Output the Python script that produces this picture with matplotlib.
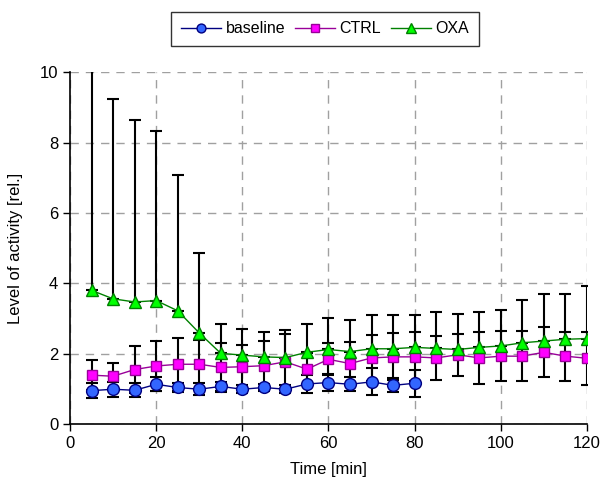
import numpy as np
import matplotlib
matplotlib.use("Agg")
import matplotlib.pyplot as plt

plt.rcParams['font.family'] = ['Liberation Sans', 'DejaVu Sans']

# Zeitpunkte [min]
time_base = [5, 10, 15, 20, 25, 30, 35, 40, 45, 50, 55, 60, 65, 70, 75, 80]
time_all = [5, 10, 15, 20, 25, 30, 35, 40, 45, 50, 55, 60,
            65, 70, 75, 80, 85, 90, 95, 100, 105, 110, 115, 120]

baseline = [0.95, 0.99, 0.96, 1.13, 1.04, 0.99, 1.07, 0.99, 1.04, 0.99, 1.14, 1.18,
            1.13, 1.2, 1.1, 1.16]
baseline_err = [0.21, 0.21, 0.2, 0.2, 0.14, 0.17, 0.13, 0.11, 0.1, 0.12, 0.25, 0.25,
                0.2, 0.38, 0.2, 0.38]

ctrl = [1.39, 1.36, 1.55, 1.65, 1.7, 1.7, 1.61, 1.63, 1.66, 1.77, 1.56, 1.84,
        1.72, 1.88, 1.91, 1.91, 1.88, 1.97, 1.88, 1.93, 1.93, 2.04, 1.93, 1.87]
ctrl_err = [0.43, 0.38, 0.67, 0.71, 0.75, 0.7, 0.7, 0.63, 0.69, 0.8, 0.45, 0.45,
            0.6, 0.65, 0.67, 0.7, 0.63, 0.6, 0.74, 0.72, 0.72, 0.71, 0.7, 0.76]

oxa = [3.8, 3.56, 3.47, 3.51, 3.22, 2.59, 2.01, 1.96, 1.91, 1.89, 2.04, 2.12,
       2.06, 2.14, 2.14, 2.18, 2.15, 2.12, 2.18, 2.22, 2.31, 2.36, 2.41, 2.43]
oxa_err = [6.24, 5.69, 5.17, 4.82, 3.87, 2.28, 0.83, 0.74, 0.7, 0.77, 0.8, 0.9,
           0.89, 0.96, 0.96, 0.92, 1.04, 1.02, 1.01, 1.02, 1.21, 1.35, 1.3, 1.49]

fig = plt.figure(figsize=(6.02, 4.88), dpi=100)
ax = fig.add_axes([0.1163, 0.131, 0.8587, 0.721])

# Fehlerbalken (OXA nur nach oben)
ax.errorbar(time_base, baseline, yerr=baseline_err, fmt='none', ecolor='black',
            elinewidth=1.5, capsize=4.5, capthick=1.5, zorder=2)
ax.errorbar(time_all, ctrl, yerr=ctrl_err, fmt='none', ecolor='black',
            elinewidth=1.5, capsize=4.5, capthick=1.5, zorder=2)
ax.errorbar(time_all, oxa, yerr=[np.zeros(len(oxa_err)), oxa_err], fmt='none',
            ecolor='black', elinewidth=1.5, capsize=4.5, capthick=1.5, zorder=2)

ax.plot(time_base, baseline, color='#000080', lw=1, marker='o', ms=8.5,
        mfc='#3366FF', mec='#000080', mew=1, label='baseline', zorder=3)
ax.plot(time_all, ctrl, color='#990099', lw=1, marker='s', ms=7.5,
        mfc='#FF00FF', mec='#990099', mew=1, label='CTRL', zorder=3)
ax.plot(time_all, oxa, color='#008000', lw=1, marker='^', ms=9,
        mfc='#00FF00', mec='#008000', mew=1, label='OXA', zorder=3)

ax.set_xlim(0, 120)
ax.set_ylim(0, 10)
ax.set_xticks(range(0, 121, 20))
ax.set_yticks(range(0, 11, 2))
ax.grid(True, linestyle=(0, (6, 5)), color='#A0A0A0', linewidth=1)
ax.set_axisbelow(True)
for s in ['top', 'right']:
    ax.spines[s].set_visible(False)
ax.spines['left'].set_linewidth(1.2)
ax.spines['bottom'].set_linewidth(1.2)
ax.tick_params(direction='out', length=5, width=1, labelsize=12, colors='black')
ax.set_xlabel('Time [min]', fontsize=12, labelpad=8)
ax.set_ylabel('Level of activity [rel.]', fontsize=12, labelpad=12)

leg = fig.legend(loc='upper center', bbox_to_anchor=(0.54, 0.992), ncol=3,
                 fontsize=11.5, frameon=True, fancybox=False, edgecolor='black',
                 handlelength=2.5, columnspacing=0.6, handletextpad=0.3,
                 borderpad=0.6, markerscale=0.75)
leg.get_frame().set_linewidth(1)

fig.savefig('out.png', dpi=100)
